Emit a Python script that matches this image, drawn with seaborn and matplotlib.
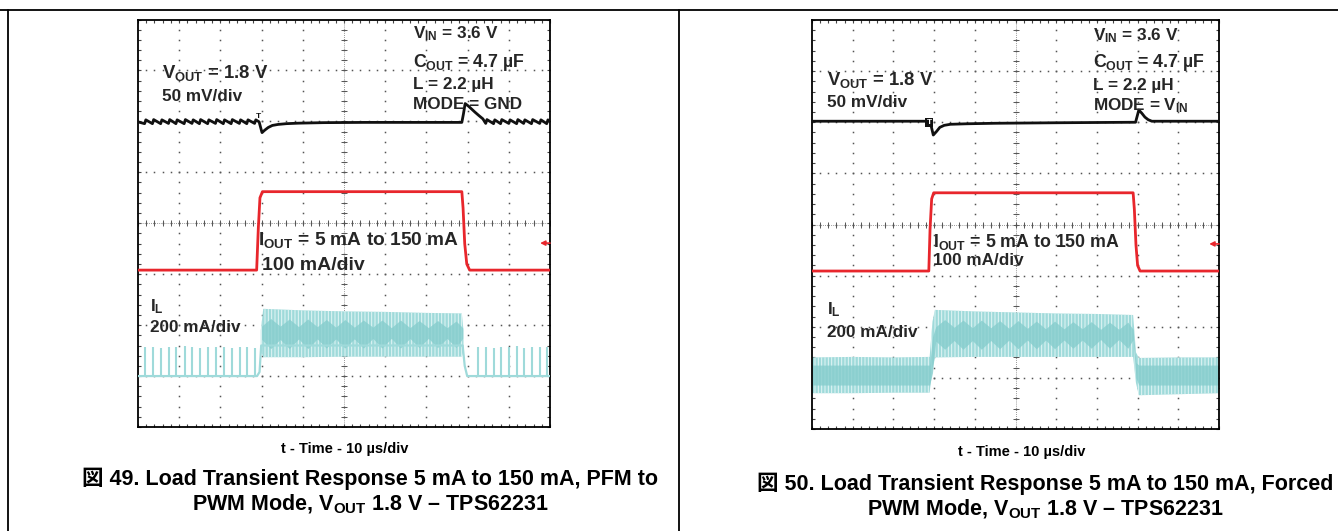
import numpy as np
import pandas as pd
import seaborn as sns
import matplotlib.pyplot as plt
from matplotlib.lines import Line2D

sns.set_style('white')
plt.rcParams['font.family'] = ['Liberation Sans', 'Noto Sans CJK JP', 'DejaVu Sans']
plt.rcParams['font.weight'] = 'bold'
plt.rcParams['mathtext.fontset'] = 'custom'
plt.rcParams['mathtext.rm'] = 'Liberation Sans:bold'
plt.rcParams['mathtext.it'] = 'Liberation Sans:bold'
plt.rcParams['mathtext.bf'] = 'Liberation Sans:bold'
plt.rcParams['mathtext.default'] = 'rm'
plt.rcParams['hatch.linewidth'] = 0.7

# ---- data (x: us, 10 us/div; y: divisions from bottom) ----

# Fig 49 (PFM to PWM)
vout49_t = [0, 1.6, 1.9, 3.5, 3.8, 5.5, 5.8, 7.4, 7.7, 9.2, 9.5, 11.2, 11.5, 13.1, 13.4,
            14.9, 15.2, 16.9, 17.2, 18.8, 19.1, 20.7, 21.0, 22.6, 22.9, 24.6, 24.9, 26.4, 26.7,
            28.3, 28.6, 29.4, 30.1, 30.8, 31.6, 32.6, 34.0, 36.0, 39.0, 45.0, 55.0, 65.0, 78.6,
            79.0, 79.4, 80.2, 81.0, 81.8, 82.8, 83.7, 84.4, 84.7, 86.3, 86.6, 88.0, 88.3, 90.0,
            90.3, 91.9, 92.2, 93.6, 93.9, 95.5, 95.8, 97.5, 97.8, 99.2, 99.5, 100]
vout49_v = [5.99, 5.955, 6.03, 5.955, 6.035, 5.955, 6.03, 5.96, 6.035, 5.955, 6.03, 5.955, 6.035, 5.96, 6.03,
            5.955, 6.035, 5.955, 6.03, 5.96, 6.035, 5.955, 6.03, 5.955, 6.035, 5.96, 6.03, 5.955, 6.03,
            5.96, 6.03, 5.99, 5.78, 5.83, 5.88, 5.92, 5.94, 5.955, 5.965, 5.975, 5.98, 5.98, 5.98,
            6.15, 6.35, 6.30, 6.24, 6.18, 6.11, 6.05, 5.96, 6.035, 5.955, 6.03, 5.955, 6.035, 5.96,
            6.03, 5.955, 6.035, 5.96, 6.03, 5.955, 6.035, 5.96, 6.03, 5.955, 6.03, 5.99]
iout49_t = [0, 28.8, 29.2, 29.6, 30.2, 78.6, 78.9, 79.3, 79.8, 80.5, 100]
iout49_v = [3.08, 3.08, 3.9, 4.5, 4.62, 4.62, 4.3, 3.6, 3.2, 3.08, 3.08]
il49_base_t = [0, 28.9, 29.5, 29.9, 78.8, 79.3, 79.9, 100]
il49_base_v = [1.0, 1.0, 1.08, 1.6, 1.6, 1.2, 1.0, 1.0]
il49_spikes = [1.7, 3.6, 5.6, 7.5, 9.3, 11.3, 13.2, 15.0, 17.0, 18.9, 20.8, 22.7, 24.7, 26.5, 28.4,
               82.5, 84.4, 86.3, 88.1, 90.0, 91.9, 93.7, 95.6, 97.5, 99.3]
il49_spike_top = [1.57, 1.58, 1.56, 1.58, 1.57, 1.59, 1.57, 1.56, 1.58, 1.57, 1.58, 1.56, 1.58, 1.57, 1.55,
                  1.57, 1.58, 1.56, 1.58, 1.57, 1.59, 1.56, 1.58, 1.57, 1.58]
band49_t = [29.8, 30.4, 40, 50, 60, 70, 78.6, 79.0]
band49_hi = [1.9, 2.32, 2.29, 2.27, 2.26, 2.24, 2.23, 1.9]
band49_lo = [1.5, 1.37, 1.37, 1.38, 1.38, 1.38, 1.38, 1.5]
core49_t = [30.0, 32.2, 34.5, 36.7, 39.0, 41.2, 43.5, 45.7, 48.0, 50.2, 52.5, 54.7, 57.0, 59.2,
            61.5, 63.7, 66.0, 68.2, 70.5, 72.7, 75.0, 77.2, 78.8]
core49_hi = [1.98, 2.13, 1.98, 2.12, 1.97, 2.12, 1.97, 2.11, 1.96, 2.11, 1.96, 2.10, 1.96, 2.10,
             1.95, 2.10, 1.95, 2.09, 1.95, 2.09, 1.95, 2.08, 1.95]
core49_lo = [1.72, 1.54, 1.72, 1.54, 1.73, 1.54, 1.73, 1.55, 1.73, 1.55, 1.73, 1.55, 1.74, 1.55,
             1.74, 1.55, 1.74, 1.56, 1.74, 1.56, 1.74, 1.56, 1.74]

# Fig 50 (forced PWM)
vout50_t = [0, 28.5, 29.3, 29.8, 30.6, 31.4, 32.5, 34.0, 38.0, 45.0, 60.0, 79.5, 79.9, 80.3,
            81.0, 81.8, 82.6, 83.5, 90.0, 100]
vout50_v = [6.02, 6.02, 5.92, 5.75, 5.82, 5.90, 5.94, 5.96, 5.97, 5.98, 5.99, 6.00, 6.12, 6.24,
            6.18, 6.10, 6.05, 6.02, 6.02, 6.02]
iout50_t = [0, 28.7, 29.0, 29.4, 29.9, 78.9, 79.2, 79.6, 80.0, 80.6, 100]
iout50_v = [3.09, 3.09, 3.9, 4.5, 4.62, 4.62, 4.3, 3.6, 3.2, 3.09, 3.09]
band50_t = [0, 10, 20, 28.9, 29.6, 30.2, 40, 50, 60, 70, 78.9, 79.6, 80.3, 90, 100]
band50_hi = [1.40, 1.41, 1.40, 1.41, 2.1, 2.33, 2.30, 2.28, 2.26, 2.25, 2.23, 1.5, 1.39, 1.40, 1.40]
band50_lo = [0.70, 0.70, 0.71, 0.71, 1.2, 1.40, 1.41, 1.41, 1.41, 1.41, 1.41, 0.9, 0.66, 0.68, 0.70]
core50_t = [0, 28.9, 29.6, 30.4, 32.6, 34.9, 37.1, 39.4, 41.6, 43.9, 46.1, 48.4, 50.6, 52.9, 55.1,
            57.4, 59.6, 61.9, 64.1, 66.4, 68.6, 70.9, 73.1, 75.4, 77.6, 78.9, 79.6, 80.3, 100]
core50_hi = [1.25, 1.25, 1.8, 2.00, 2.14, 1.99, 2.13, 1.98, 2.13, 1.98, 2.12, 1.97, 2.12, 1.97, 2.11,
             1.96, 2.11, 1.96, 2.10, 1.96, 2.10, 1.95, 2.09, 1.95, 2.09, 1.95, 1.3, 1.25, 1.25]
core50_lo = [0.86, 0.86, 1.1, 1.72, 1.56, 1.73, 1.56, 1.73, 1.56, 1.73, 1.57, 1.74, 1.57, 1.74, 1.57,
             1.74, 1.57, 1.74, 1.58, 1.74, 1.58, 1.75, 1.58, 1.75, 1.58, 1.75, 1.0, 0.86, 0.86]

BLACK = '#111111'
RED = '#e8262c'
CYAN = '#9fdada'
CYAN_DARK = '#86cdcd'
TXT = '#262626'


def scope_grid(ax):
    ax.set_xlim(0, 100)
    ax.set_ylim(0, 8)
    ax.set_xticks(np.arange(0, 101, 10))
    ax.set_yticks(np.arange(0, 9, 1))
    ax.set_xticks(np.arange(0, 101, 2), minor=True)
    ax.set_yticks(np.arange(0, 8.01, 0.2), minor=True)
    ax.tick_params(which='both', direction='in', top=True, right=True, bottom=True, left=True,
                   labelbottom=False, labelleft=False, length=2.5, width=0.8, color='#444')
    ax.set_xlabel('')
    ax.set_ylabel('')
    xm = np.arange(0, 100.01, 2)
    ym = np.arange(0, 8.001, 0.2)
    for gx in range(10, 100, 10):
        ax.plot(np.full_like(ym, gx), ym, ls='none', marker='s', ms=1.1, mew=0, color='#555', zorder=1)
    for gy in range(1, 8):
        ax.plot(xm, np.full_like(xm, gy), ls='none', marker='s', ms=1.1, mew=0, color='#555', zorder=1)
    ax.axvline(50, ls=(0, (1, 1.5)), lw=0.6, color='#777', zorder=1)
    ax.axhline(4, ls=(0, (1, 1.5)), lw=0.6, color='#777', zorder=1)
    ax.plot(np.full_like(ym, 50), ym, ls='none', marker='_', ms=4, mew=0.7, color='#555', zorder=1)
    ax.plot(xm, np.full_like(xm, 4), ls='none', marker='|', ms=4, mew=0.7, color='#555', zorder=1)
    for s in ax.spines.values():
        s.set_visible(True)
        s.set_linewidth(1.3)
        s.set_color('black')


def trace(ax, t, v, color, lw):
    df = pd.DataFrame({'t': t, 'v': v})
    sns.lineplot(data=df, x='t', y='v', ax=ax, color=color, lw=lw, sort=False,
                 estimator=None, zorder=3)


def band(ax, t, lo, hi, color):
    ax.fill_between(t, lo, hi, facecolor=color, edgecolor='none', lw=0, zorder=2)
    ax.fill_between(t, lo, hi, facecolor='none', edgecolor='#e4f5f5', hatch='|||||', lw=0, zorder=2)


def label(ax, x, y, s, size=12.3):
    ax.text(x, y, s, ha='left', va='top', fontsize=size, fontweight='bold', color=TXT, zorder=5)


W, H = 1338, 531
fig = plt.figure(figsize=(W / 100, H / 100), dpi=100)

ax1 = fig.add_axes([138 / W, 1 - 427 / H, 412 / W, 407.5 / H])
ax2 = fig.add_axes([812 / W, 1 - 429 / H, 407 / W, 409 / H])

for ax in (ax1, ax2):
    scope_grid(ax)

# --- Fig 49 traces ---
band(ax1, band49_t, band49_lo, band49_hi, CYAN)
ax1.fill_between(core49_t, core49_lo, core49_hi, color=CYAN_DARK, alpha=0.8, lw=0, zorder=2)
ax1.vlines(il49_spikes, 1.0, il49_spike_top, color=CYAN, lw=1.5, zorder=2)
trace(ax1, il49_base_t, il49_base_v, CYAN, 1.6)
trace(ax1, iout49_t, iout49_v, RED, 2.0)
trace(ax1, vout49_t, vout49_v, BLACK, 2.0)
ax1.annotate('', xy=(97.6, 3.61), xytext=(100, 3.61),
             arrowprops=dict(arrowstyle='-|>', color=RED, lw=1.2, mutation_scale=7,
                             shrinkA=0, shrinkB=0), zorder=4)
ax1.text(29.3, 6.02, 'T', ha='center', va='bottom', fontsize=6, color=BLACK, zorder=4)

label(ax1, 66.7, 7.90, 'V$_{IN}$ = 3.6 V')
label(ax1, 66.7, 7.37, 'C$_{OUT}$ = 4.7 µF', 12.8)
label(ax1, 66.7, 6.88, 'L = 2.2 µH')
label(ax1, 66.7, 6.48, 'MODE = GND')
label(ax1, 5.8, 7.15, 'V$_{OUT}$ = 1.8 V', 13.3)
label(ax1, 5.8, 6.64, '50 mV/div')
label(ax1, 29.1, 3.87, 'I$_{OUT}$ = 5 mA to 150 mA', 13.8)
label(ax1, 30.1, 3.34, '100 mA/div', 14.0)
label(ax1, 2.9, 2.55, 'I$_{L}$')
label(ax1, 2.9, 2.10, '200 mA/div')

# --- Fig 50 traces ---
band(ax2, band50_t, band50_lo, band50_hi, CYAN)
ax2.fill_between(core50_t, core50_lo, core50_hi, color=CYAN_DARK, alpha=0.8, lw=0, zorder=2)
trace(ax2, iout50_t, iout50_v, RED, 2.0)
trace(ax2, vout50_t, vout50_v, BLACK, 2.0)
ax2.annotate('', xy=(97.6, 3.62), xytext=(100, 3.62),
             arrowprops=dict(arrowstyle='-|>', color=RED, lw=1.2, mutation_scale=7,
                             shrinkA=0, shrinkB=0), zorder=4)
ax2.text(28.8, 6.0, 'T', ha='center', va='center', fontsize=6, color='white', zorder=4,
         bbox=dict(boxstyle='square,pad=0.15', facecolor=BLACK, edgecolor='none'))

label(ax2, 69.0, 7.87, 'V$_{IN}$ = 3.6 V')
label(ax2, 69.0, 7.38, 'C$_{OUT}$ = 4.7 µF', 12.8)
label(ax2, 69.0, 6.87, 'L = 2.2 µH')
label(ax2, 69.0, 6.50, 'MODE = V$_{IN}$')
label(ax2, 3.7, 7.03, 'V$_{OUT}$ = 1.8 V', 13.3)
label(ax2, 3.7, 6.54, '50 mV/div')
label(ax2, 29.7, 3.86, 'I$_{OUT}$ = 5 mA to 150 mA', 12.8)
label(ax2, 29.7, 3.44, '100 mA/div')
label(ax2, 3.7, 2.52, 'I$_{L}$')
label(ax2, 3.7, 2.04, '200 mA/div')

# --- table cell borders ---
for (x0, y0, x1, y1) in [(0, 10, W, 10), (8, 10, 8, H), (679, 10, 679, H)]:
    fig.add_artist(Line2D([x0 / W, x1 / W], [1 - y0 / H, 1 - y1 / H], color='black', lw=1.3))

# --- axis captions and figure titles ---
cap = dict(ha='center', va='center', fontweight='bold', color='black')
fig.text(345 / W, 1 - 449 / H, 't - Time - 10 µs/div', fontsize=10.5, **cap)
fig.text(1022 / W, 1 - 452 / H, 't - Time - 10 µs/div', fontsize=10.5, **cap)
fig.text(370 / W, 1 - 479 / H, '図 49. Load Transient Response 5 mA to 150 mA, PFM to', fontsize=15.5, **cap)
fig.text(370 / W, 1 - 504 / H, 'PWM Mode, V$_{OUT}$ 1.8 V – TPS62231', fontsize=15.5, **cap)
fig.text(1045 / W, 1 - 484 / H, '図 50. Load Transient Response 5 mA to 150 mA, Forced', fontsize=15.5, **cap)
fig.text(1045 / W, 1 - 509 / H, 'PWM Mode, V$_{OUT}$ 1.8 V – TPS62231', fontsize=15.5, **cap)

fig.savefig('out.png', dpi=100)
